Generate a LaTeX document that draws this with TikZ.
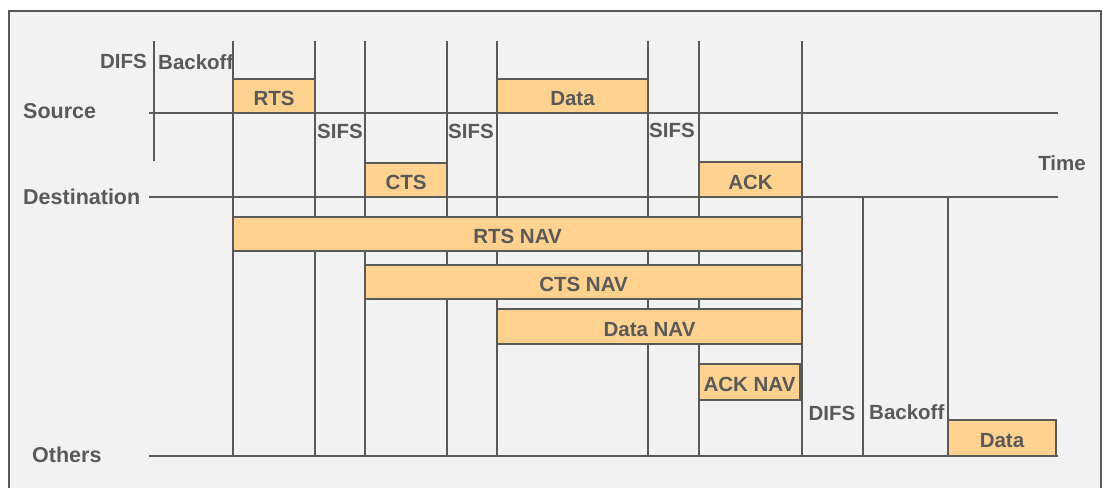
\documentclass[tikz,border=0pt]{standalone}
\usepackage{fontspec}
\setmainfont{Liberation Sans}
\definecolor{ink}{HTML}{595959}
\definecolor{slotfill}{HTML}{FFD28F}
\definecolor{panel}{HTML}{F2F2F2}

\begin{document}
\begin{tikzpicture}[x=1pt, y=-1pt,
  axis/.style={draw=ink, line width=2pt},
  frameline/.style={draw=ink, line width=2pt},
  slot/.style={draw=ink, fill=slotfill, line width=2pt, inner sep=0pt,
    outer sep=0pt, anchor=north west, text=ink,
    text height=19.7pt, text depth=0pt,
    font=\bfseries\fontsize{20.5}{22}\selectfont},
  lbl/.style={inner sep=0pt, text=ink,
    font=\bfseries\fontsize{20.5}{22}\selectfont},
  station/.style={lbl, anchor=west,
    font=\bfseries\fontsize{21.5}{23}\selectfont}]
\useasboundingbox (0,0) rectangle (1104,488);
\fill[white] (0,0) rectangle (1104,488);

% panel
\fill[panel] (9,11) rectangle (1101,488);
\draw[frameline] (9,488) -- (9,11) -- (1101,11) -- (1101,488);

% station time lines
\coordinate (srcA) at (149,113);  \coordinate (srcB) at (1058,113);
\coordinate (dstA) at (149,197);  \coordinate (dstB) at (1058,197);
\coordinate (othA) at (149,456);  \coordinate (othB) at (1058,456);
\draw[axis] (srcA) -- (srcB);
\draw[axis] (dstA) -- (dstB);
\draw[axis] (othA) -- (othB);

% slot boundaries
\coordinate (d0t) at (154,41);  \coordinate (d0b) at (154,161);
\draw[axis] (d0t) -- (d0b);
\foreach \x [count=\i] in {233,315,365,447,497,648,699,802} {
  \coordinate (bt\i) at (\x,41);
  \coordinate (bb\i) at (\x,456);
  \draw[axis] (bt\i) -- (bb\i);
}
\foreach \x [count=\i] in {863,948} {
  \coordinate (ct\i) at (\x,197);
  \coordinate (cb\i) at (\x,456);
  \draw[axis] (ct\i) -- (cb\i);
}

% frames on the air
\node[slot, minimum width=82pt,  minimum height=34pt] (rts)  at (233,79)  {RTS};
\node[slot, minimum width=151pt, minimum height=34pt] (data) at (497,79)  {Data};
\node[slot, minimum width=82pt,  minimum height=34pt] (cts)  at (365,163) {CTS};
\node[slot, minimum width=103pt, minimum height=35pt] (ack)  at (699,162) {ACK};
\node[slot, minimum width=569pt, minimum height=34pt] (rtsnav)  at (233,217) {RTS NAV};
\node[slot, minimum width=437pt, minimum height=34pt] (ctsnav)  at (365,265) {CTS NAV};
\node[slot, minimum width=305pt, minimum height=35pt] (datanav) at (497,309) {Data NAV};
\node[slot, minimum width=101pt, minimum height=36pt] (acknav)  at (699,364) {ACK NAV};
\node[slot, minimum width=108pt, minimum height=36pt] (odata)   at (948,420) {Data};

% station names
\node[station] (source) at (23,111) {Source};
\node[station] (dest)   at (23,197) {Destination};
\node[station] (others) at (32,455) {Others};

% interval labels
\node[lbl, anchor=east] (difs1) at (147,61) {DIFS};
\node[lbl, anchor=west] (back1) at (158,62) {Backoff};
\node[lbl, anchor=west] (sifs1) at (317,131) {SIFS};
\node[lbl, anchor=west] (sifs2) at (448,131) {SIFS};
\node[lbl, anchor=west] (sifs3) at (649,130) {SIFS};
\node[lbl] (time)  at (1062,163) {Time};
\node[lbl] (difs2) at (832,413) {DIFS};
\node[lbl, anchor=west] (back2) at (869,412) {Backoff};
\end{tikzpicture}
\end{document}
